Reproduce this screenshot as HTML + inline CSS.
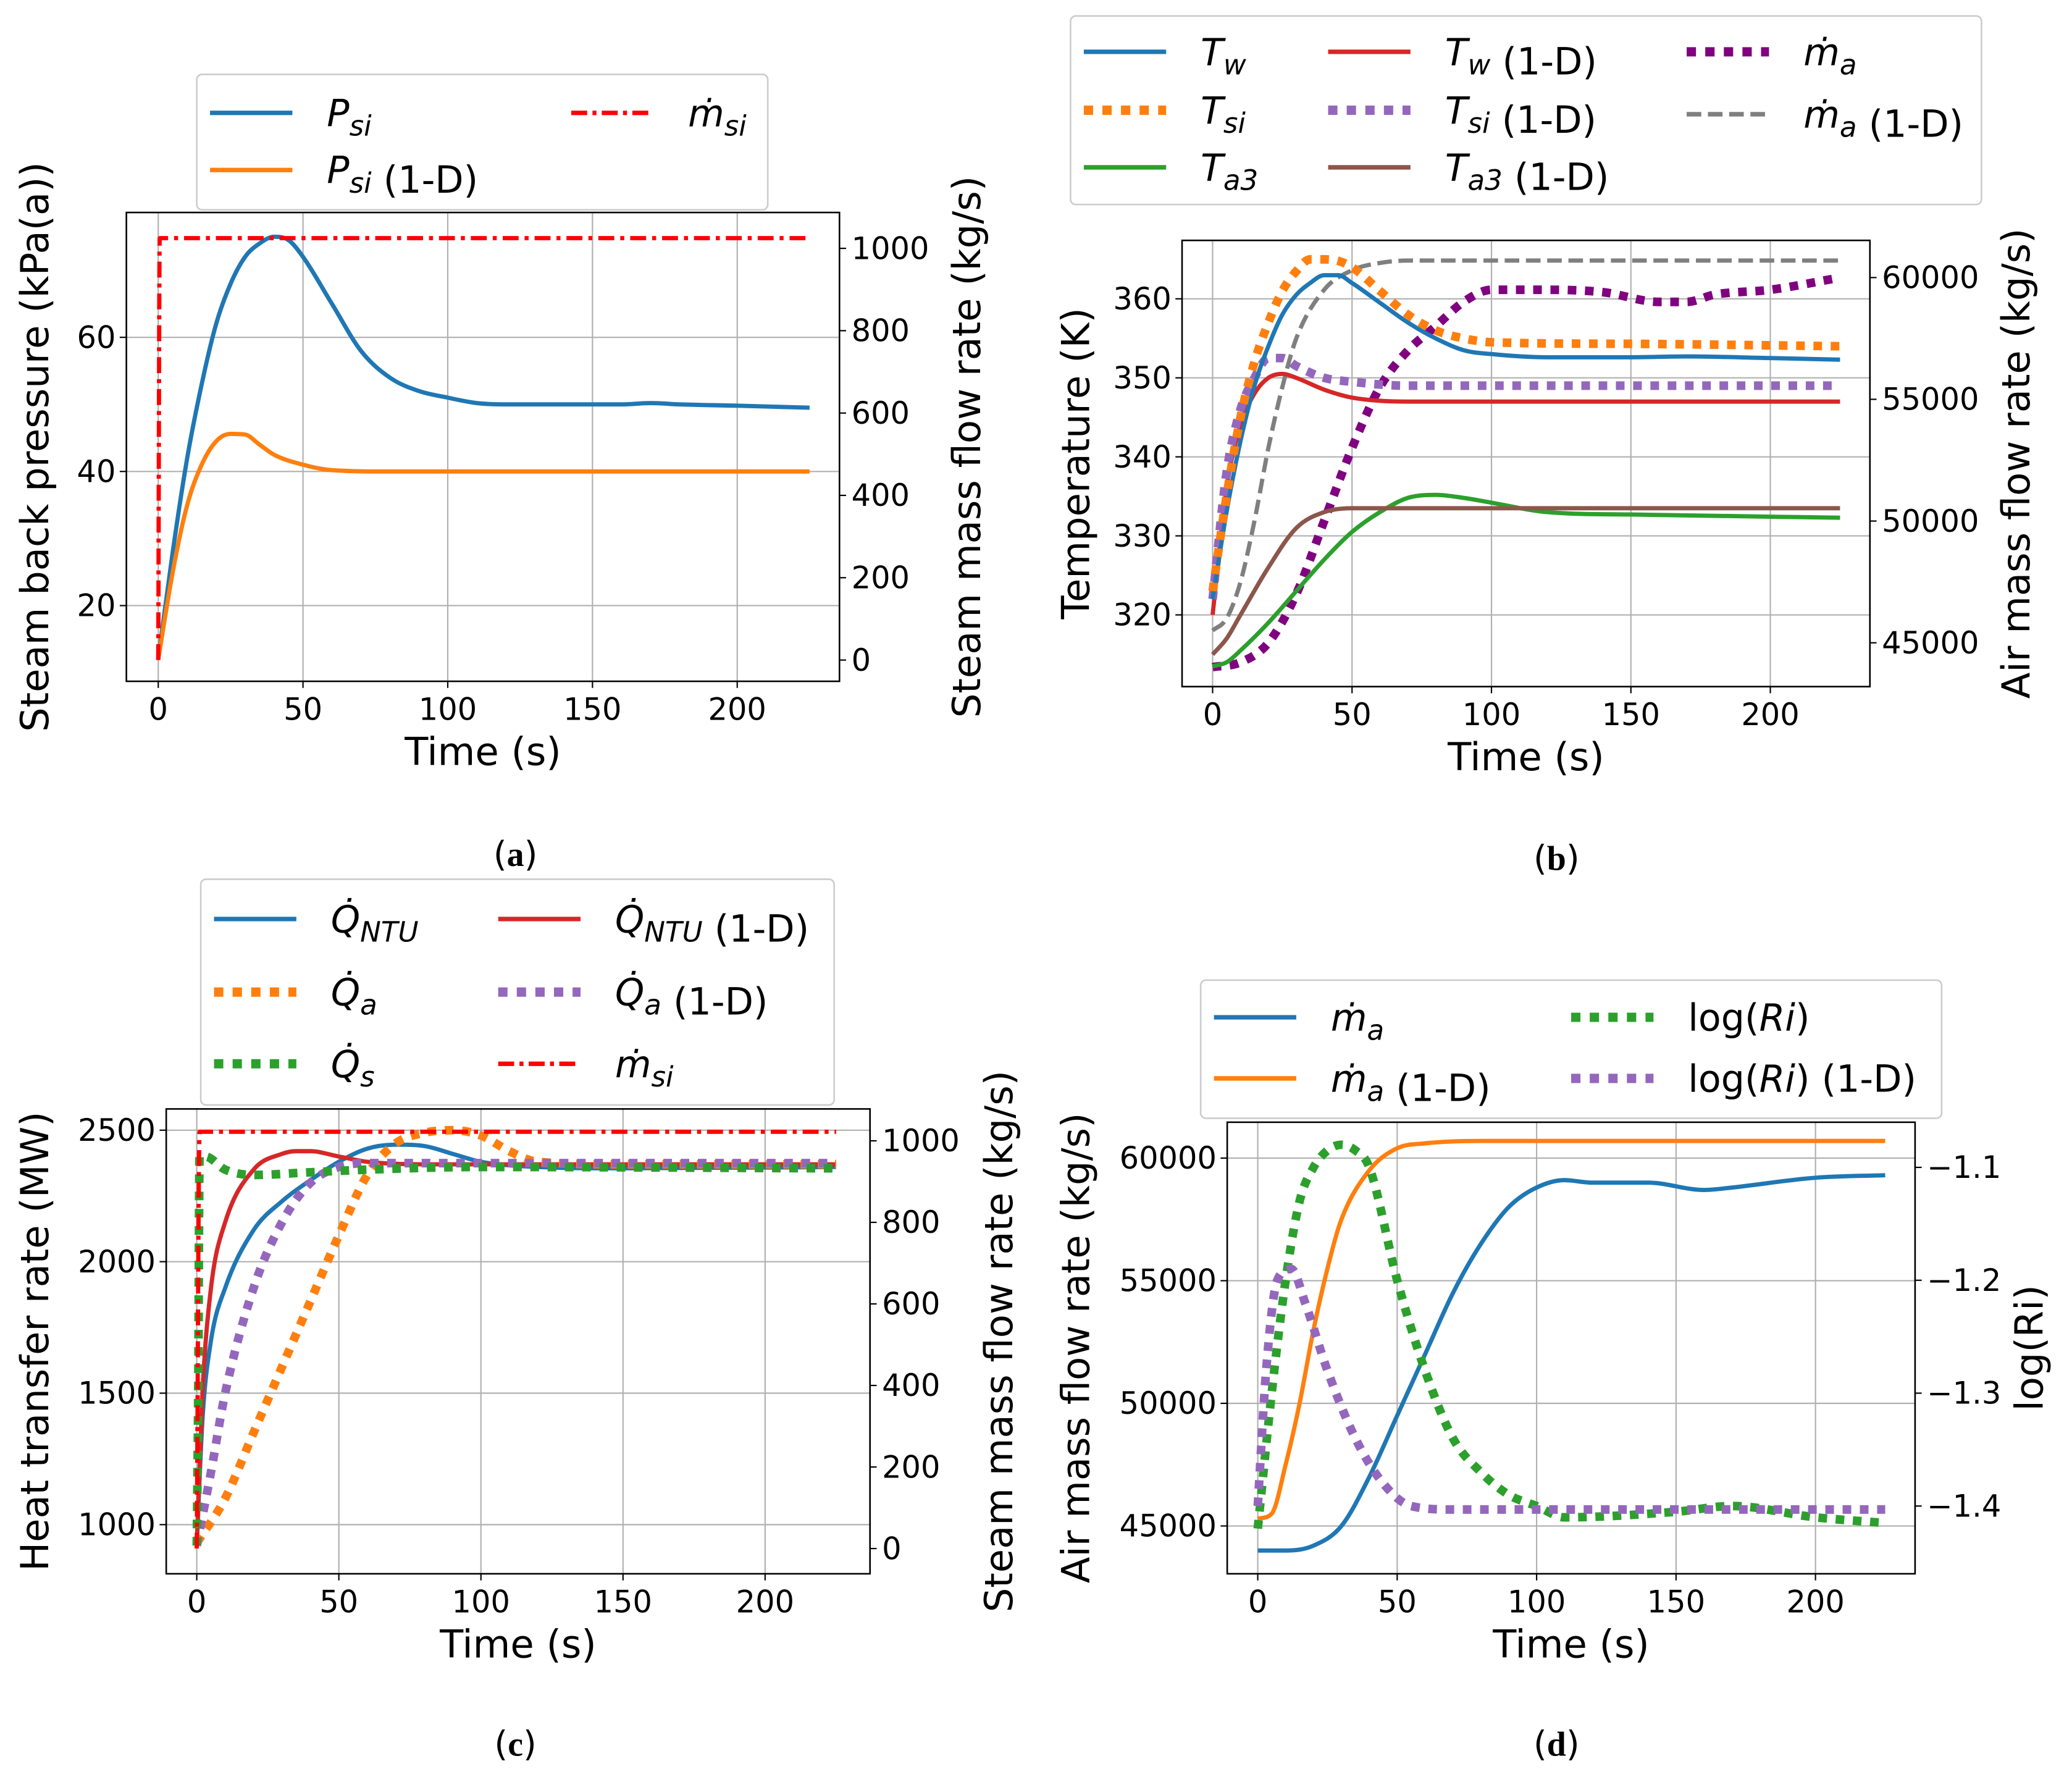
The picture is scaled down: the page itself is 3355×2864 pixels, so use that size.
<!DOCTYPE html>
<html><head><meta charset="utf-8"><style>
html,body{margin:0;padding:0;background:#fff}
svg{display:block}
text{font-family:"DejaVu Sans","Liberation Sans",sans-serif;fill:#000}
</style></head><body>
<svg id="fig" width="3355" height="2864" viewBox="0 0 1560 1332" xmlns="http://www.w3.org/2000/svg"></svg>
<script>
// ---- Panel (a) data ----
const aT=[0,5,10,15,20,25,30,35,40,45,50,60,70,80,90,100,110,120,140,160,170,180,200,225];
const aPsi=[12,28,42,53,62,68,72,74,75,74.5,72,65,58,54,52,51,50.2,50,50,50,50.2,50,49.8,49.5];
const aT1=[0,5,10,15,20,25,30,35,40,50,60,80,225];
const aPsi1=[12,25,35,41,44.5,45.6,45.5,44,42.5,41,40.2,40,40];
const aMT=[0,0.5,225];
const aMsi=[0,1025,1025];
// ---- Panel (b) data ----
const bTwT=[0,5,10,15,20,25,30,35,40,45,50,60,70,80,90,100,120,150,170,200,225];
const bTw=[322,333,342,349,354,358,360.5,362,363,363,362,359.5,357,355,353.5,353,352.6,352.6,352.7,352.5,352.3];
const bTsiT=[0,5,10,15,20,25,30,35,40,45,50,60,70,80,90,100,150,225];
const bTsi=[323,335,345,352,357,361,363.5,365,365,364.8,364,361,358,356,355,354.5,354.3,354];
const bTaT=[0,5,10,20,30,40,50,60,70,80,90,100,120,150,225];
const bTa=[313.5,314,315.5,319,323,327,330.5,333,334.8,335.2,334.8,334.2,333,332.7,332.3];
const bTw1T=[0,5,10,15,20,25,30,40,50,70,225];
const bTw1=[320,336,344,348,350,350.5,350,348.5,347.5,347,347];
const bTsi1T=[0,5,10,15,20,25,30,40,50,70,225];
const bTsi1=[322,338,346,350,352.5,352.5,351.5,350,349.5,349,349];
const bTa1T=[0,5,10,20,30,40,50,225];
const bTa1=[315,317,320,326,331,333,333.5,333.5];
const bMaT=[0,10,20,30,40,50,60,70,80,90,100,120,140,160,170,180,200,225];
const bMa=[44000,44200,45000,47000,50000,53000,55500,57000,58000,59000,59500,59500,59400,59000,59000,59300,59500,60000];
const bMa1T=[0,5,10,15,20,25,30,40,50,60,70,225];
const bMa1=[45500,46000,47500,50000,53000,55500,57500,59500,60300,60600,60700,60700];
// ---- Panel (c) data ----
const cQnT=[0,2,5,10,20,30,40,50,60,70,80,90,100,120,150,225];
const cQn=[920,1400,1700,1900,2120,2230,2310,2380,2430,2445,2440,2410,2380,2360,2355,2360];
const cQn1T=[0,2,5,10,20,30,35,40,50,60,80,225];
const cQn1=[920,1500,1900,2150,2350,2410,2420,2420,2400,2380,2370,2370];
const cQaT=[0,10,20,30,40,50,60,70,80,90,100,110,120,150,225];
const cQa=[930,1100,1350,1600,1850,2100,2330,2450,2490,2500,2480,2420,2380,2370,2370];
const cQa1T=[0,5,10,20,30,40,50,60,225];
const cQa1=[920,1200,1500,1900,2150,2300,2360,2375,2375];
const cQsT=[0,0.5,1,3,10,20,40,60,100,225];
const cQs=[920,1500,2400,2400,2350,2330,2340,2350,2360,2355];
const cMT=[0,1,225];
const cMsi=[0,1022,1022];
// ---- Panel (d) data ----
const dMaT=[0,10,20,30,40,50,60,70,80,90,100,110,120,140,160,170,200,225];
const dMa=[44000,44000,44200,45000,47000,49500,52000,54500,56500,58000,58800,59100,59000,59000,58700,58800,59200,59300];
const dMa1T=[0,5,10,15,20,25,30,40,50,60,80,225];
const dMa1=[45300,45500,47500,50000,53000,55500,57500,59500,60400,60600,60700,60700];
const dRiT=[0,5,10,15,20,25,30,35,40,50,60,70,80,90,100,110,150,170,200,225];
const dRi=[-1.42,-1.3,-1.2,-1.13,-1.1,-1.085,-1.08,-1.085,-1.1,-1.2,-1.28,-1.34,-1.37,-1.39,-1.40,-1.41,-1.405,-1.40,-1.41,-1.415];
const dRi1T=[0,3,7,12,17,25,35,45,55,70,225];
const dRi1=[-1.40,-1.28,-1.2,-1.19,-1.22,-1.28,-1.34,-1.38,-1.40,-1.403,-1.403];
const xTicks=[0,50,100,150,200];

const NS="http://www.w3.org/2000/svg";
const svg=document.getElementById('fig');
function el(tag,attrs,parent,txt){const e=document.createElementNS(NS,tag);for(const k in attrs)e.setAttribute(k,attrs[k]);if(txt!==undefined)e.textContent=txt;(parent||svg).appendChild(e);return e;}
function lin(d0,d1,p0,p1){return v=>p0+(v-d0)*(p1-p0)/(d1-d0);}
function smoothPath(px,py){
  const n=px.length;if(n<3){return 'M'+px.map((x,i)=>x.toFixed(1)+','+py[i].toFixed(1)).join(' L');}
  const d=[],m=new Array(n);
  for(let i=0;i<n-1;i++)d.push((py[i+1]-py[i])/((px[i+1]-px[i])||1e-6));
  m[0]=d[0];m[n-1]=d[n-2];
  for(let i=1;i<n-1;i++){m[i]=(d[i-1]*d[i]<=0)?0:(d[i-1]+d[i])/2;}
  for(let i=0;i<n-1;i++){if(d[i]===0){m[i]=0;m[i+1]=0;continue;}const a=m[i]/d[i],b=m[i+1]/d[i],s=a*a+b*b;if(s>9){const t=3/Math.sqrt(s);m[i]=t*a*d[i];m[i+1]=t*b*d[i];}}
  let s='M'+px[0].toFixed(1)+','+py[0].toFixed(1);
  for(let i=0;i<n-1;i++){const h=(px[i+1]-px[i])/3;s+=' C'+(px[i]+h).toFixed(1)+','+(py[i]+m[i]*h).toFixed(1)+' '+(px[i+1]-h).toFixed(1)+','+(py[i+1]-m[i+1]*h).toFixed(1)+' '+px[i+1].toFixed(1)+','+py[i+1].toFixed(1);}
  return s;
}
function series(g,xs,ys,X,Y,color,style,name){
  const a={d:smoothPath(xs.map(X),ys.map(Y)),fill:'none',stroke:color,'stroke-width':style==='dot'?6.5:3.2,'stroke-linejoin':'round'};
  if(style==='dot')a['stroke-dasharray']='6.5,6.5';
  if(style==='dash')a['stroke-dasharray']='11,5';
  if(style==='dashdot')a['stroke-dasharray']='12,4.5,3,4.5';
  const p=el('path',a,g);
  
  
}
function axes(o){
  const g=el('g',{});
  
  
  const X=o.X;
  xTicks.forEach(t=>{el('line',{x1:X(t),x2:X(t),y1:o.y0,y2:o.y1,stroke:'#b0b0b0','stroke-width':1},g);});
  o.lt.forEach(v=>{el('line',{x1:o.x0,x2:o.x1,y1:o.YL(v),y2:o.YL(v),stroke:'#b0b0b0','stroke-width':1},g);});
  const cl='clip'+o.name;
  const cp=el('clipPath',{id:cl},g);el('rect',{x:o.x0,y:o.y0,width:o.x1-o.x0,height:o.y1-o.y0},cp);
  const sg=el('g',{'clip-path':'url(#'+cl+')'},g);
  o.draw(sg);
  el('rect',{x:o.x0,y:o.y0,width:o.x1-o.x0,height:o.y1-o.y0,fill:'none',stroke:'#000','stroke-width':1.2},g);
  xTicks.forEach(t=>{el('line',{x1:X(t),x2:X(t),y1:o.y1,y2:o.y1+5,stroke:'#000'},g);
    const tx=el('text',{x:X(t),y:o.y1+29,'font-size':23,'text-anchor':'middle'},g,String(t));});
  o.lt.forEach(v=>{el('line',{x1:o.x0-5,x2:o.x0,y1:o.YL(v),y2:o.YL(v),stroke:'#000'},g);
    const tx=el('text',{x:o.x0-8,y:o.YL(v)+8,'font-size':23,'text-anchor':'end'},g,o.ltf?o.ltf(v):String(v));});
  o.rt.forEach(v=>{el('line',{x1:o.x1,x2:o.x1+5,y1:o.YR(v),y2:o.YR(v),stroke:'#000'},g);
    const tx=el('text',{x:o.x1+9,y:o.YR(v)+8,'font-size':23},g,o.rtf?o.rtf(v):String(v));});
  const xl=el('text',{x:(o.x0+o.x1)/2,y:o.y1+63,'font-size':29,'text-anchor':'middle'},g,'Time (s)');
  
  const yl=el('text',{transform:`translate(${o.ylx},${(o.y0+o.y1)/2}) rotate(-90)`,'font-size':29,'text-anchor':'middle'},g,o.yl);
  
  const yr=el('text',{transform:`translate(${o.yrx},${(o.y0+o.y1)/2}) rotate(-90)`,'font-size':29,'text-anchor':'middle'},g,o.yr);
  
}
function legend(name,x,y,w,h,entries){
  const g=el('g',{});
  
  
  el('rect',{x,y,width:w,height:h,rx:4,fill:'#fff',stroke:'#ccc','stroke-width':1.2},g);
  entries.forEach(e=>{
    const a={x1:e.x,x2:e.x+62,y1:e.y,y2:e.y,stroke:e.c,'stroke-width':e.s==='dot'?7:3.4};
    if(e.s==='dot')a['stroke-dasharray']='7,7';
    if(e.s==='dash')a['stroke-dasharray']='11,5';
    if(e.s==='dashdot')a['stroke-dasharray']='12,4,3,4';
    el('line',a,g);
    const t=el('text',{x:e.x+88,y:e.y+10,'font-size':28},g);
    t.innerHTML=e.t;
    
    
  });
}
function caption(x,y,letter){
  const t=el('text',{x,y,'font-size':26,'text-anchor':'middle','font-family':'"Liberation Serif",serif'});
  t.innerHTML='(<tspan font-weight="bold" font-family="Liberation Serif">'+letter+'</tspan>)';
  
  
}
const BL='#1f77b4',OR='#ff7f0e',GR='#2ca02c',RD='#d62728',PU='#9467bd',BR='#8c564b',GY='#7f7f7f',PP='#800080',RR='#ff0000';
const I=s=>'<tspan font-style="italic">'+s+'</tspan>';
const sub=s=>'<tspan font-size="21" dy="7" font-style="italic">'+s+'</tspan><tspan dy="-7"></tspan>';
const mdot='<tspan font-style="italic">ṁ</tspan>';
const Qd='<tspan font-style="italic">Q̇</tspan>';

// Panel a
{const X=lin(0,200,119,555),YL=lin(20,60,456,254),YR=lin(0,1000,497,187);
axes({name:'panel-a',x0:95,x1:632,y0:160,y1:513,X,YL,YR,lt:[20,40,60],rt:[0,200,400,600,800,1000],yl:'Steam back pressure (kPa(a))',yr:'Steam mass flow rate (kg/s)',ylx:36,yrx:738,
draw:g=>{series(g,aT,aPsi,X,YL,BL,'solid','psi-line');series(g,aT1,aPsi1,X,YL,OR,'solid','psi-1d-line');series(g,aMT,aMsi,X,YR,RR,'dashdot','msi-line');}});
legend('legend-a',148,56,430,102,[{x:158,y:85,c:BL,s:'solid',t:I('P')+sub('si')},{x:158,y:128,c:OR,s:'solid',t:I('P')+sub('si')+' (1-D)'},{x:430,y:85,c:RR,s:'dashdot',t:mdot+sub('si')}]);
caption(388,652,'a');}
// Panel b
{const X=lin(0,200,913,1333),YL=lin(320,360,463,225),YR=lin(45000,60000,484,209);
axes({name:'panel-b',x0:890,x1:1408,y0:181,y1:517,X,YL,YR,lt:[320,330,340,350,360],rt:[45000,50000,55000,60000],yl:'Temperature (K)',yr:'Air mass flow rate (kg/s)',ylx:820,yrx:1528,
draw:g=>{series(g,bMaT,bMa,X,YR,PP,'dot','ma-line');series(g,bMa1T,bMa1,X,YR,GY,'dash','ma-1d-line');series(g,bTaT,bTa,X,YL,GR,'solid','ta3-line');series(g,bTa1T,bTa1,X,YL,BR,'solid','ta3-1d-line');series(g,bTw1T,bTw1,X,YL,RD,'solid','tw-1d-line');series(g,bTsi1T,bTsi1,X,YL,PU,'dot','tsi-1d-line');series(g,bTwT,bTw,X,YL,BL,'solid','tw-line');series(g,bTsiT,bTsi,X,YL,OR,'dot','tsi-line');}});
legend('legend-b',806,12,686,142,[{x:816,y:39,c:BL,s:'solid',t:I('T')+sub('w')},{x:816,y:83,c:OR,s:'dot',t:I('T')+sub('si')},{x:816,y:126,c:GR,s:'solid',t:I('T')+sub('a3')},
{x:1000,y:39,c:RD,s:'solid',t:I('T')+sub('w')+' (1-D)'},{x:1000,y:83,c:PU,s:'dot',t:I('T')+sub('si')+' (1-D)'},{x:1000,y:126,c:BR,s:'solid',t:I('T')+sub('a3')+' (1-D)'},
{x:1270,y:39,c:PP,s:'dot',t:mdot+sub('a')},{x:1270,y:86,c:GY,s:'dash',t:mdot+sub('a')+' (1-D)'}]);
caption(1172,655,'b');}
// Panel c
{const X=lin(0,200,148,576),YL=lin(1000,2500,1148,851),YR=lin(0,1000,1166,859);
axes({name:'panel-c',x0:125,x1:655,y0:835,y1:1185,X,YL,YR,lt:[1000,1500,2000,2500],rt:[0,200,400,600,800,1000],yl:'Heat transfer rate (MW)',yr:'Steam mass flow rate (kg/s)',ylx:36,yrx:762,
draw:g=>{series(g,cQnT,cQn,X,YL,BL,'solid','qntu-line');series(g,cQn1T,cQn1,X,YL,RD,'solid','qntu-1d-line');series(g,cQaT,cQa,X,YL,OR,'dot','qa-line');series(g,cQa1T,cQa1,X,YL,PU,'dot','qa-1d-line');series(g,cQsT,cQs,X,YL,GR,'dot','qs-line');series(g,cMT,cMsi,X,YR,RR,'dashdot','msi-line-c');}});
legend('legend-c',151,662,477,170,[{x:161,y:692,c:BL,s:'solid',t:Qd+sub('NTU')},{x:161,y:747,c:OR,s:'dot',t:Qd+sub('a')},{x:161,y:801,c:GR,s:'dot',t:Qd+sub('s')},
{x:375,y:692,c:RD,s:'solid',t:Qd+sub('NTU')+' (1-D)'},{x:375,y:747,c:PU,s:'dot',t:Qd+sub('a')+' (1-D)'},{x:375,y:801,c:RR,s:'dashdot',t:mdot+sub('si')}]);
caption(388,1322,'c');}
// Panel d
{const X=lin(0,200,947,1367),YL=lin(45000,60000,1149,872),YR=lin(-1.4,-1.1,1134,879);
axes({name:'panel-d',x0:924,x1:1442,y0:845,y1:1185,X,YL,YR,lt:[45000,50000,55000,60000],rt:[-1.1,-1.2,-1.3,-1.4],rtf:v=>'\u2212'+Math.abs(v).toFixed(1),yl:'Air mass flow rate (kg/s)',yr:'log(Ri)',ylx:820,yrx:1538,
draw:g=>{series(g,dMaT,dMa,X,YL,BL,'solid','ma-line-d');series(g,dMa1T,dMa1,X,YL,OR,'solid','ma-1d-line-d');series(g,dRiT,dRi,X,YR,GR,'dot','logri-line');series(g,dRi1T,dRi1,X,YR,PU,'dot','logri-1d-line');}});
legend('legend-d',904,738,558,104,[{x:914,y:766,c:BL,s:'solid',t:mdot+sub('a')},{x:914,y:812,c:OR,s:'solid',t:mdot+sub('a')+' (1-D)'},
{x:1183,y:766,c:GR,s:'dot',t:'log('+I('Ri')+')'},{x:1183,y:812,c:PU,s:'dot',t:'log('+I('Ri')+') (1-D)'}]);
caption(1172,1322,'d');}
</script>
</body></html>
